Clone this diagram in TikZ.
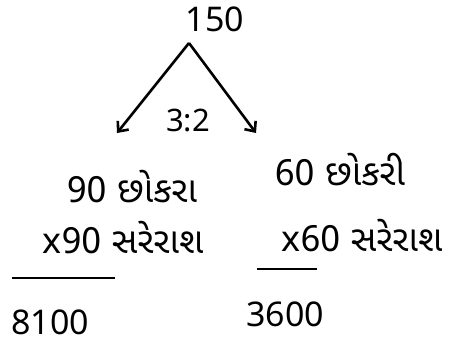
\documentclass[tikz,border=0pt]{standalone}
\usepackage{fontspec}
\setmainfont{Noto Sans}
\newfontfamily\gujfont[Script=Gujarati]{Noto Sans Gujarati UI}
\usetikzlibrary{arrows.meta}
\newcommand{\lx}{{\normalfont x}}
\begin{document}
\begin{tikzpicture}[x=1pt,y=-1pt,
  lbl/.style={inner sep=0pt,font=\fontsize{34}{38}\selectfont},
  glbl/.style={inner sep=0pt,font=\gujfont\fontsize{36}{40}\selectfont},
  arr/.style={line width=2.6pt,-{Straight Barb[length=8pt,width=14pt]}},
  rule/.style={line width=2pt}]
\useasboundingbox (0,0) rectangle (463,346);
\node[lbl] (total) at (215,19) {150};
\coordinate (apex) at (189,43);
\coordinate (lt) at (117,133);
\coordinate (rt) at (256,133);
\draw[arr] (apex) -- (lt);
\draw[arr] (apex) -- (rt);
\node[lbl,font=\fontsize{31}{34}\selectfont] (ratio) at (188,120) {3:2};
\node[glbl] (boys) at (132,187) {90 છોકરા};
\node[glbl] (girls) at (340,170) {60 છોકરી};
\node[glbl] (avgb) at (123,238) {\lx90 સરેરાશ};
\node[glbl] (avgg) at (362,236) {\lx60 સરેરાશ};
\coordinate (ul1) at (12,278);
\coordinate (ul2) at (115,278);
\coordinate (ur1) at (257,269);
\coordinate (ur2) at (317,269);
\draw[rule] (ul1) -- (ul2);
\draw[rule] (ur1) -- (ur2);
\node[lbl] (prodb) at (50,322) {8100};
\node[lbl] (prodg) at (285,314) {3600};
\end{tikzpicture}
\end{document}
